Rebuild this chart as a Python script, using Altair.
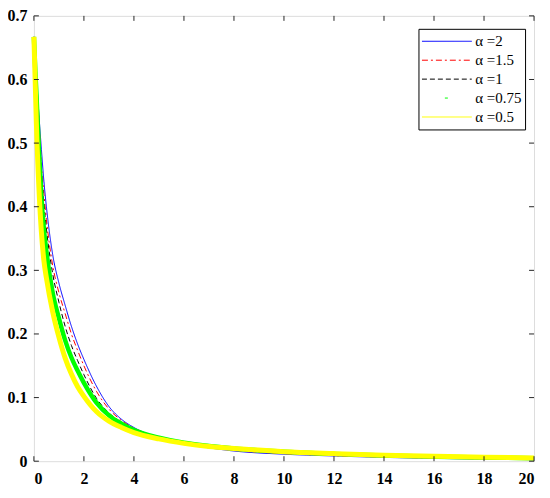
import altair as alt
import pandas as pd

# ---- data ----
x_vals = [0, 0.05, 0.1, 0.2, 0.3, 0.4, 0.5, 0.75, 1, 1.25, 1.5, 1.75, 2, 2.5, 3, 3.5, 4,
          5, 6, 7, 8, 10, 12, 14, 16, 18, 20]

series = ["α =2", "α =1.5", "α =1", "α =0.75", "α =0.5"]

y_a2 = [0.667, 0.635, 0.605, 0.545, 0.490, 0.440, 0.400, 0.325, 0.280, 0.245, 0.212, 0.184, 0.160,
        0.118, 0.086, 0.066, 0.053, 0.037, 0.027, 0.021, 0.016, 0.011, 0.0082, 0.0060, 0.0045,
        0.0033, 0.0025]
y_a15 = [0.667, 0.632, 0.600, 0.535, 0.465, 0.420, 0.380, 0.308, 0.265, 0.232, 0.200, 0.174, 0.150,
         0.110, 0.082, 0.064, 0.052, 0.037, 0.028, 0.022, 0.017, 0.012, 0.0088, 0.0066, 0.0050,
         0.0038, 0.0030]
y_a1 = [0.667, 0.628, 0.592, 0.525, 0.455, 0.405, 0.365, 0.295, 0.250, 0.212, 0.182, 0.158, 0.136,
        0.099, 0.076, 0.061, 0.050, 0.037, 0.028, 0.022, 0.018, 0.013, 0.0095, 0.0073, 0.0057,
        0.0045, 0.0036]
y_a075 = [0.667, 0.620, 0.578, 0.490, 0.415, 0.365, 0.330, 0.265, 0.225, 0.190, 0.163, 0.142, 0.123,
          0.092, 0.072, 0.059, 0.049, 0.037, 0.029, 0.024, 0.020, 0.015, 0.0115, 0.0090, 0.0072,
          0.0058, 0.0048]
y_a05 = [0.667, 0.600, 0.530, 0.430, 0.360, 0.315, 0.288, 0.235, 0.195, 0.162, 0.137, 0.117, 0.102,
         0.078, 0.063, 0.053, 0.045, 0.035, 0.028, 0.023, 0.020, 0.015, 0.0120, 0.0095, 0.0078,
         0.0063, 0.0052]

x_ticks = [0, 2, 4, 6, 8, 10, 12, 14, 16, 18, 20]
y_ticks = [0, 0.1, 0.2, 0.3, 0.4, 0.5, 0.6, 0.7]

colors = ["#0000ff", "#ff0000", "#000000", "#00ff00", "#ffff00"]
dashes = [[1, 0], [6, 3, 2, 3], [5, 3], [0, 23, 3, 1000], [1, 0]]
widths = [1, 1, 1.3, 3, 1.5]

ys = [y_a2, y_a15, y_a1, y_a075, y_a05]
rows = []
for s, yv in zip(series, ys):
    for xv, v in zip(x_vals, yv):
        rows.append({"x": xv, "y": v, "series": s})
df = pd.DataFrame(rows)

W, H = 502, 447
FONT = "Liberation Serif"

xscale = alt.Scale(domain=[0, 20], nice=False)
yscale = alt.Scale(domain=[0, 0.7], nice=False)


def xenc(field):
    return alt.X(field, type="quantitative", scale=xscale, title=None,
                 axis=alt.Axis(values=x_ticks, ticks=False, tickSize=0, domain=False, grid=False,
                               labelFont=FONT, labelFontSize=16, labelColor="black",
                               labelFontWeight="bold", labelPadding=9, title=None))


def yenc(field):
    return alt.Y(field, type="quantitative", scale=yscale, title=None,
                 axis=alt.Axis(values=y_ticks, ticks=False, tickSize=0, domain=False, grid=False,
                               labelFont=FONT, labelFontSize=16, labelColor="black",
                               labelFontWeight="bold", labelPadding=7, title=None,
                               labelExpr="datum.value == 0 ? '0' : format(datum.value, '.1f')"))


base = alt.Chart(df)

legend = alt.Legend(orient="none", legendX=386, legendY=13, title=None,
                    symbolType="stroke", symbolSize=2500, labelOffset=3,
                    labelFont=FONT, labelFontSize=15, labelColor="black",
                    strokeColor="#000000", fillColor="white", padding=3,
                    rowPadding=0, clipHeight=19, symbolOpacity=1)

lines = base.mark_line(interpolate="monotone", strokeCap="butt").encode(
    x=xenc("x"),
    y=yenc("y"),
    color=alt.Color("series:N", scale=alt.Scale(domain=series, range=colors), legend=legend),
    strokeDash=alt.StrokeDash("series:N", scale=alt.Scale(domain=series, range=dashes), legend=legend),
    strokeWidth=alt.StrokeWidth("series:N", scale=alt.Scale(domain=series, range=widths), legend=legend),
)

green = base.transform_filter(alt.datum.series == series[3]).mark_line(
    interpolate="monotone", color="#00ff00", strokeWidth=4.5).encode(x=xenc("x"), y=yenc("y"))
yellow = base.transform_filter(alt.datum.series == series[4]).mark_line(
    interpolate="monotone", color="#ffff00", strokeWidth=5).encode(x=xenc("x"), y=yenc("y"))

xt = alt.Chart(pd.DataFrame({"t": x_ticks}))
yt = alt.Chart(pd.DataFrame({"t": y_ticks}))
tick_style = dict(color="#262626", strokeWidth=1)

xt_bottom = xt.mark_rule(**tick_style).encode(x=xenc("t"), y=alt.value(H), y2=alt.value(H - 5))
xt_top = xt.mark_rule(**tick_style).encode(x=xenc("t"), y=alt.value(0), y2=alt.value(5))
yt_left = yt.mark_rule(**tick_style).encode(y=yenc("t"), x=alt.value(0), x2=alt.value(5))
yt_right = yt.mark_rule(**tick_style).encode(y=yenc("t"), x=alt.value(W), x2=alt.value(W - 5))

chart = alt.layer(lines, green, yellow, xt_bottom, xt_top, yt_left, yt_right).properties(
    width=W, height=H,
    autosize=alt.AutoSizeParams(type="none"),
    padding={"left": 26, "top": 7, "right": 8, "bottom": 26},
).configure_view(stroke="#333333", strokeWidth=1.3).configure(background="white")

chart.save("out.html", embed_options={"renderer": "svg", "actions": False})
